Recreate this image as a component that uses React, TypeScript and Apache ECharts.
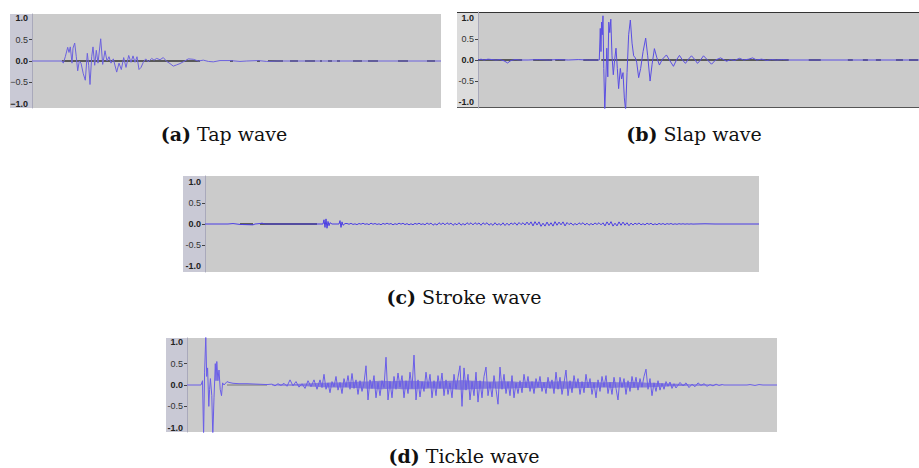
import React, { useEffect, useRef } from "react";
import * as echarts from "echarts";

// ---------- data ----------
const yLabelValues = [-1, -0.5, 0, 0.5, 1];
const yTickValues = [-0.5, 0, 0.5];

const captionTags = ["(a)", "(b)", "(c)", "(d)"];
const captionNames = ["Tap wave", "Slap wave", "Stroke wave", "Tickle wave"];

// durations (frames) of each recording
const durations = [409, 440, 554, 590];

// (a) Tap wave: [frame, amplitude]
const tapWave: [number, number][] = [
  [0, 0], [30, 0], [31.3, -0.05], [33.3, 0.1], [35.7, 0.32], [37, 0.2], [38.3, 0.33], [40, -0.05],
  [41, 0.3], [42.7, 0.42], [44.3, 0.1], [45.7, -0.23], [47.3, 0], [49, -0.05], [51.3, -0.3],
  [53.3, -0.45], [55.3, 0.18], [56.7, -0.1], [58, -0.55], [59.7, 0.1], [61, 0.33], [62.7, -0.1],
  [64.3, 0.25], [66, -0.05], [68.7, 0.52], [70.7, -0.08], [73, 0.24], [75, 0], [77, 0.1], [79, -0.05],
  [81.3, 0.05], [84.7, -0.26], [87, -0.05], [89.3, -0.2], [91.7, 0.08], [94, -0.15], [96.7, 0.13],
  [99, -0.03], [101, 0.12], [103, -0.03], [105, 0.1], [107, -0.2], [109, -0.15], [111.3, -0.03],
  [113.7, 0.05], [116.3, -0.02], [119.7, 0.06], [122, 0.02], [124.7, 0.06], [128, 0.03], [131.3, 0.08],
  [134.7, -0.01], [138, -0.06], [141.3, -0.12], [144.7, -0.09], [148, -0.06], [152, -0.01],
  [156.3, 0.05], [161.3, 0.04], [166.3, 0], [171.3, 0.02], [176.3, -0.01], [181.3, -0.02], [188, 0.01],
  [198, 0.01], [208, -0.01], [214.7, 0], [226.3, 0.01], [234.7, -0.01], [245, 0], [409, 0],
];
const tapDark: [number, number][] = [
  [30, 168], [198, 201], [225, 228], [236, 251], [258, 266], [273, 283], [288, 290], [296, 300],
  [305, 308], [321, 330], [336, 346], [366, 376], [395, 403],
];

// (b) Slap wave
const slapWave: [number, number][] = [
  [0, 0], [3, 0.02], [6, 0], [10, 0.02], [14, 0.01], [18, 0], [22, 0.01], [26, -0.02], [29.5, -0.07],
  [33, -0.01], [37, 0.01], [42, 0], [50, 0], [60, 0.01], [70, 0], [80, 0.01], [90, 0], [100, 0.01],
  [110, 0], [121, 0], [122, 0.75], [122.7, 0.2], [123.3, 0.9], [124, 0.6], [124.7, 1.05], [125.5, -0.2],
  [126.5, -1.2], [127.5, -0.5], [128.5, 0.28], [129.5, -0.4], [130.5, 0.9], [131.5, 0.65], [132.5, 0.97],
  [133.7, 0.1], [135, -0.35], [136.3, 0], [137.7, 0.28], [139, -0.2], [140.3, -0.68], [142, -0.2],
  [143.3, -0.45], [144.7, -0.3], [146, -0.9], [147.3, -1.2], [148.7, -0.3], [150.3, 0.6], [152, 0.95],
  [153.7, 0.4], [155.3, 0.1], [157, 0.05], [158.3, -0.05], [160.3, -0.42], [162.3, -0.2], [164.7, 0.2],
  [167.3, 0.52], [169.3, 0.1], [171.7, -0.5], [173.7, -0.1], [176, 0.27], [178.5, 0.05], [181, -0.12],
  [184, 0.02], [188, 0.12], [191, 0], [195, -0.15], [198, 0], [201, 0.11], [204, 0], [207, -0.08],
  [210, 0.02], [213, 0.1], [216, 0.02], [219, -0.08], [222, 0], [225, 0.1], [229, 0], [233, -0.1],
  [237, 0], [242, 0.05], [248, -0.03], [252, 0.01], [256, -0.01], [261, 0.04], [265, 0], [270, 0.02],
  [274, 0.05], [278, 0], [283, 0.02], [288, -0.01], [293, 0.01], [298, 0], [304, 0.01], [310, 0], [440, 0],
];
const slapDark: [number, number][] = [
  [0, 44], [55, 74], [77, 87], [105, 120], [123, 310], [330, 342], [369, 374], [384, 389], [397, 402],
  [417, 424], [430, 439],
];

// (c) Stroke wave
const strokeOnset: [number, number][] = [
  [0, 0], [23, 0], [28, 0.01], [35, -0.01], [48, -0.02], [50, 0], [55, 0.01], [57, 0.02], [60, 0],
  [112, 0], [118, 0], [119, 0.1], [120, -0.08], [121, 0.12], [122, -0.1], [123, 0.06], [124, -0.04],
  [125, 0.03], [127, 0], [134, 0], [135, 0.08], [136, -0.08], [137, 0.05], [138, -0.03], [140, 0.01],
];
const strokeNoiseStart = 142;
const strokeNoiseStep = 2;
const strokeNoise = [
  0.012, -0.006, 0.015, -0.01, 0.004, -0.015, 0.012, -0.005, 0.018, -0.008,
  0.006, -0.015, 0.02, -0.006, 0.012, -0.01, 0.005, -0.018, 0.015, -0.008,
  0.02, -0.006, 0.012, -0.02, 0.008, -0.012, 0.02, -0.005, 0.018, -0.015,
  0.01, -0.02, 0.006, -0.018, 0.015, -0.008, 0.02, -0.012, 0.006, -0.02,
  0.025, -0.01, 0.022, -0.028, 0.008, -0.025, 0.03, -0.012, 0.025, -0.02,
  0.028, -0.01, 0.022, -0.03, 0.012, -0.02, 0.03, -0.028, 0.01, -0.025,
  0.03, -0.012, 0.028, -0.022, 0.03, -0.01, 0.025, -0.03, 0.028, -0.012,
  0.03, -0.028, 0.012, -0.032, 0.03, -0.025, 0.01, -0.03, 0.028, -0.035,
  0.02, -0.03, 0.025, -0.012, 0.03, -0.028, 0.035, -0.015, 0.03, -0.025,
  0.045, -0.02, 0.05, -0.045, 0.055, -0.025, 0.05, -0.055, 0.02, -0.05,
  0.045, -0.04, 0.03, -0.05, 0.055, -0.03, 0.045, -0.02, 0.05, -0.045,
  0.035, -0.015, 0.025, -0.028, 0.012, -0.022, 0.028, -0.01, 0.03, -0.025,
  0.02, -0.028, 0.012, -0.02, 0.025, -0.012, 0.03, -0.02, 0.028, -0.045,
  0.05, -0.025, 0.055, -0.05, 0.02, -0.045, 0.05, -0.03, 0.045, -0.028,
  0.03, -0.04, 0.022, -0.025, 0.02, -0.012, 0.025, -0.02, 0.008, -0.022,
  0.02, -0.01, 0.018, -0.02, 0.006, -0.018, 0.015, -0.01, 0.012, -0.015,
  0.01, -0.006, 0.012, -0.01, 0.005, -0.008, 0.008, -0.004, 0.006, -0.005,
  0.004, -0.003, 0.003, -0.002,
];
const strokeTail: [number, number][] = [[490, 0], [500, 0.005], [510, 0], [554, 0]];
const strokeDark: [number, number][] = [[35, 48], [55, 112]];

// (d) Tickle wave
const tickleOnset: [number, number][] = [
  [0, 0], [14, 0], [15.5, 0.1], [16.6, -1.2], [17.6, 0.3], [18.8, 1.15], [19.7, 0.2], [20.6, 0.4],
  [21.8, -0.5], [22.6, -0.1], [23.4, 0.15], [24.8, -0.25], [25.8, -1.2], [27, -0.3], [28.3, 0.5],
  [29, 0.1], [29.8, 0.55], [30.9, 0.1], [32, 0.35], [33.2, -0.1], [34.5, -0.25], [35.6, 0.05], [37, 0],
  [40, 0.08], [42, 0.06], [46, 0.04], [52, 0.03], [60, 0.03], [70, 0.02], [80, 0.01],
];
const tickleRampStart = 85;
const tickleRampStep = 3;
const tickleRamp = [0.02, -0.02, 0.03, -0.01, 0.04, -0.03, 0.12, -0.02, 0.08, -0.05, 0.03, -0.08, 0.1, -0.04, 0.12, -0.1];
const tickleBodyStart = 133;
const tickleBodyStep = 2;
const tickleBody = [
  0.12, -0.06, 0.25, -0.1, 0.05, -0.18, 0.08, -0.04, 0.2, -0.12,
  0.06, -0.2, 0.15, -0.05, 0.22, -0.1, 0.27, -0.08, 0.12, -0.22,
  0.1, -0.15, 0.05, 0.45, -0.35, 0.12, -0.08, 0.22, -0.3, 0.06,
  -0.25, 0.1, -0.06, 0.65, -0.35, 0.08, -0.3, 0.2, -0.1, 0.28,
  -0.05, 0.22, -0.3, 0.1, -0.2, 0.3, -0.08, 0.7, -0.35, 0.12,
  -0.28, 0.08, -0.15, 0.3, -0.06, 0.25, -0.3, 0.1, -0.25, 0.22,
  -0.08, 0.28, -0.25, 0.12, -0.22, 0.05, -0.3, 0.25, -0.1, 0.18,
  0.45, -0.5, 0.4, -0.12, 0.25, -0.35, 0.08, -0.25, 0.3, -0.4,
  0.1, -0.3, 0.2, 0.42, -0.25, 0.06, -0.28, 0.22, -0.1, -0.45,
  0.42, -0.1, 0.25, -0.2, 0.08, -0.25, 0.22, -0.3, 0.05, -0.2,
  0.1, -0.18, 0.25, -0.06, 0.2, -0.15, 0.08, -0.2, 0.15, -0.05,
  0.2, -0.15, 0.06, -0.2, 0.18, -0.08, 0.12, -0.2, 0.3, -0.1,
  0.18, -0.22, 0.05, 0.35, -0.25, 0.1, -0.18, 0.22, -0.06, 0.15,
  -0.22, 0.08, -0.18, 0.25, -0.06, 0.15, -0.22, 0.05, -0.3, 0.12,
  -0.15, 0.2, -0.05, 0.22, -0.2, 0.06, -0.22, 0.18, -0.08, -0.35,
  0.18, -0.06, 0.15, -0.22, 0.1, -0.15, 0.2, -0.05, 0.18, -0.12,
  0.15, -0.05, 0.2, 0.37, -0.1, 0.15, -0.25, 0.05, -0.15, 0.1,
  -0.12, 0.04, -0.1, 0.08, -0.03, 0.07, -0.08, 0.03, -0.07,
];
const tickleTailStart = 493;
const tickleTailStep = 3;
const tickleTail = [0.06, -0.02, 0.05, -0.06, 0.02, -0.04, 0.05, -0.01, 0.03, -0.03, 0.01, -0.02, 0.02, -0.01, 0.01];
const tickleEnd: [number, number][] = [[537, 0], [560, 0], [563, 0.01], [568, -0.01], [572, 0.01], [576, 0], [590, 0]];
const tickleDark: [number, number][] = [[40, 80]];
// RMS envelope of the tickle recording
const tickleRmsStart = 85;
const tickleRmsStep = 10;
const tickleRms = [
  0.01, 0.015, 0.02, 0.03, 0.04, 0.05, 0.06, 0.06, 0.07, 0.08,
  0.09, 0.1, 0.09, 0.1, 0.1, 0.09, 0.08, 0.09, 0.1, 0.11,
  0.1, 0.09, 0.08, 0.09, 0.08, 0.07, 0.08, 0.07, 0.08, 0.09,
  0.08, 0.07, 0.07, 0.06, 0.07, 0.06, 0.07, 0.06, 0.05, 0.04,
  0.03, 0.025, 0.02, 0.015, 0.01, 0.005,
];

// ---------- helpers ----------
const sampled = (start: number, step: number, vals: number[]): [number, number][] =>
  vals.map((v, i) => [start + i * step, v]);

const strokeWave: [number, number][] = [
  ...strokeOnset,
  ...sampled(strokeNoiseStart, strokeNoiseStep, strokeNoise),
  ...strokeTail,
];
const tickleWave: [number, number][] = [
  ...tickleOnset,
  ...sampled(tickleRampStart, tickleRampStep, tickleRamp),
  ...sampled(tickleBodyStart, tickleBodyStep, tickleBody),
  ...sampled(tickleTailStart, tickleTailStep, tickleTail),
  ...tickleEnd,
];
const tickleRmsPts = sampled(tickleRmsStart, tickleRmsStep, tickleRms);

const waves = [tapWave, slapWave, strokeWave, tickleWave];
const darks = [tapDark, slapDark, strokeDark, tickleDark];

const darkData = (segs: [number, number][]) => {
  const out: any[] = [];
  segs.forEach(([s, e]) => {
    out.push([s, 0], [e, 0], [e, null]);
  });
  return out;
};

// ---------- layout ----------
const layout = [
  { left: 32, top: 14, width: 409, height: 94, stripX: 10, stripW: 22, range: 1.1, strip: "#c9c9d5", wave: "#6c62de", dark: "#333333", darkW: 1.5, minus: "\u2212", cap: [224, 134] },
  { left: 478, top: 12, width: 441, height: 96, stripX: 457, stripW: 21, range: 1.14, strip: "#dcdcdc", wave: "#5a4ee2", dark: "#333333", darkW: 1.6, minus: "-", cap: [694, 134] },
  { left: 205, top: 176, width: 554, height: 96, stripX: 183, stripW: 22, range: 1.13, strip: "#c9c9d5", wave: "#4a3de3", dark: "#3a3a3a", darkW: 1.6, minus: "-", cap: [464, 297] },
  { left: 187, top: 338, width: 590, height: 94, stripX: 166, stripW: 21, range: 1.1, strip: "#c9c9d5", wave: "#6a5ee8", dark: "#777777", darkW: 1, minus: "-", cap: [464, 456] },
];

const LABEL_FONT = '"Liberation Sans", "DejaVu Sans", sans-serif';
const CAP_FONT = '"DejaVu Serif", "Liberation Serif", serif';

function buildOption() {
  const grid: any[] = [];
  const xAxis: any[] = [];
  const yAxis: any[] = [];
  const series: any[] = [];
  const graphic: any[] = [];

  layout.forEach((p, i) => {
    grid.push({
      left: p.left, top: p.top, width: p.width, height: p.height,
      show: true, backgroundColor: "#cbcbcb", borderWidth: 0, containLabel: false,
    });
    xAxis.push({ type: "value", gridIndex: i, min: 0, max: durations[i], show: false });
    yAxis.push({
      type: "value", gridIndex: i, min: -p.range, max: p.range,
      splitLine: { show: false },
      axisLine: { show: true, lineStyle: { color: "#a9a9bb", width: 1 } },
      axisTick: { show: true, customValues: yTickValues, length: 3, inside: false, lineStyle: { color: "#444", width: 1 } },
      axisLabel: {
        show: true, customValues: yLabelValues, margin: 4,
        formatter: (v: number) => {
          const s = Math.abs(v).toFixed(1);
          const t = v < 0 ? p.minus + s : s;
          return Math.abs(v) === 0.5 ? `{n|${t}}` : `{b|${t}}`;
        },
        rich: {
          b: { fontFamily: LABEL_FONT, fontSize: 9, fontWeight: "bold", color: "#222" },
          n: { fontFamily: LABEL_FONT, fontSize: 9, color: "#333" },
        },
      },
    });
    if (i === 3) {
      series.push({
        type: "line", xAxisIndex: i, yAxisIndex: i, data: tickleRmsPts,
        showSymbol: false, z: 2, smooth: 0.3,
        lineStyle: { width: 0 }, areaStyle: { color: "#5a4de0", opacity: 0.6 },
      });
      series.push({
        type: "line", xAxisIndex: i, yAxisIndex: i, data: tickleRmsPts.map(([t, v]) => [t, -v]),
        showSymbol: false, z: 2, smooth: 0.3,
        lineStyle: { width: 0 }, areaStyle: { color: "#5a4de0", opacity: 0.6 },
      });
    }
    series.push({
      type: "line", xAxisIndex: i, yAxisIndex: i, data: darkData(darks[i]),
      showSymbol: false, connectNulls: false, z: 2,
      lineStyle: { color: p.dark, width: p.darkW },
    });
    series.push({
      type: "line", xAxisIndex: i, yAxisIndex: i, data: waves[i],
      showSymbol: false, z: 3,
      lineStyle: { color: p.wave, width: 1 },
    });
    graphic.push({
      type: "rect", z: -10,
      shape: { x: p.stripX, y: p.top, width: p.stripW, height: p.height },
      style: { fill: p.strip },
    });
    graphic.push({
      type: "text", x: p.cap[0], y: p.cap[1],
      style: {
        text: `{b|${captionTags[i]}} ${captionNames[i]}`,
        fontFamily: CAP_FONT, fontSize: 19, fill: "#111",
        align: "center", verticalAlign: "middle",
        rich: { b: { fontFamily: CAP_FONT, fontSize: 19, fontWeight: "bold", fill: "#111" } },
      },
    });
  });

  // border lines around panel (b)
  const b = layout[1];
  graphic.push({ type: "line", shape: { x1: b.stripX, y1: b.top + 0.5, x2: 919, y2: b.top + 0.5 }, style: { stroke: "#333", lineWidth: 1 } });
  graphic.push({ type: "line", shape: { x1: b.stripX, y1: b.top + b.height - 0.5, x2: 919, y2: b.top + b.height - 0.5 }, style: { stroke: "#555", lineWidth: 1 } });

  return { animation: false, backgroundColor: "#ffffff", grid, xAxis, yAxis, series, graphic };
}

export default function App() {
  const ref = useRef<HTMLDivElement>(null);
  useEffect(() => {
    if (!ref.current) return;
    const chart = echarts.init(ref.current, null, { renderer: "svg" });
    chart.setOption(buildOption() as any);
    return () => chart.dispose();
  }, []);
  return (
    <div
      ref={ref}
      style={{ position: "absolute", left: 0, top: 0, width: 919, height: 468, background: "#fff" }}
    />
  );
}
